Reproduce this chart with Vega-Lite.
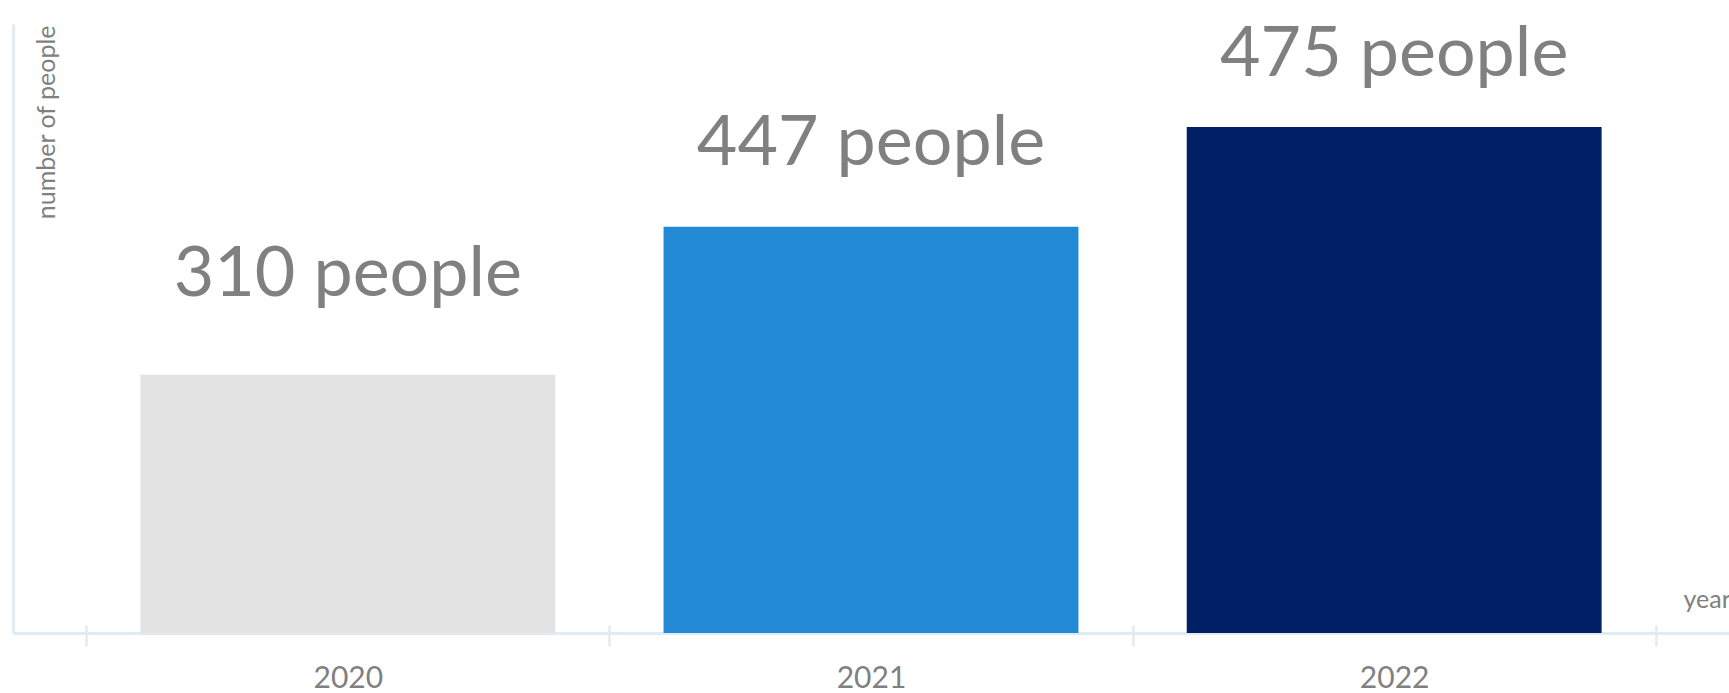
{
  "$schema": "https://vega.github.io/schema/vega-lite/v6.json",
  "width": 1716,
  "height": 609,
  "autosize": {"type": "none"},
  "padding": {"left": 13, "top": 24, "right": 0, "bottom": 60},
  "background": "white",
  "config": {"view": {"stroke": null}, "font": "Lato"},
  "data": {"values": [
    {"year": "2020", "people": 310, "label": "310 people", "bar": 42.4},
    {"year": "2021", "people": 447, "label": "447 people", "bar": 66.7},
    {"year": "2022", "people": 475, "label": "475 people", "bar": 83.1}
  ]},
  "layer": [
    {
      "mark": {"type": "bar", "width": {"band": 0.793}},
      "encoding": {
        "x": {
          "field": "year", "type": "ordinal",
          "scale": {"paddingInner": 0, "paddingOuter": 0.14},
          "axis": {
            "title": "year", "titleX": 1670, "titleY": -26, "titleAlign": "left",
            "titleBaseline": "alphabetic", "titleAngle": 0, "titleFontSize": 25,
            "titleFontWeight": "normal", "titleColor": "#808080",
            "labelAngle": 0, "labelFontSize": 30, "labelColor": "#808080",
            "labelPadding": 41, "labelBaseline": "alphabetic",
            "domainColor": "#e1ebf3", "domainWidth": 3,
            "tickColor": "#e1ebf3", "tickWidth": 2.5, "tickSize": 13,
            "tickBand": "extent", "grid": false
          }
        },
        "y": {
          "field": "bar", "type": "quantitative",
          "scale": {"domain": [0, 100]},
          "axis": {
            "title": "number of people", "titleX": 41, "titleY": 1,
            "titleAngle": 270, "titleAlign": "right", "titleBaseline": "alphabetic",
            "titleFontSize": 25, "titleFontWeight": "normal", "titleColor": "#808080",
            "labels": false, "ticks": false, "grid": false,
            "domainColor": "#e1ebf3", "domainWidth": 3
          }
        },
        "color": {
          "field": "year", "type": "nominal",
          "scale": {"range": ["#e3e3e3", "#2289d4", "#001f64"]},
          "legend": null
        }
      }
    },
    {
      "mark": {"type": "text", "baseline": "alphabetic", "fontSize": 70, "color": "#808080"},
      "encoding": {
        "x": {
          "field": "year", "type": "ordinal",
          "axis": {
            "orient": "bottom", "domain": false, "labels": false, "title": null,
            "tickColor": "#e1ebf3", "tickWidth": 2.5, "tickSize": -8,
            "tickBand": "extent", "grid": false
          }
        },
        "y": {
          "field": "bar", "type": "quantitative",
          "scale": {"domain": [-19.9, 92.7]},
          "axis": null
        },
        "text": {"field": "label"}
      }
    }
  ],
  "resolve": {
    "axis": {"x": "independent", "y": "independent"},
    "scale": {"y": "independent"}
  }
}
